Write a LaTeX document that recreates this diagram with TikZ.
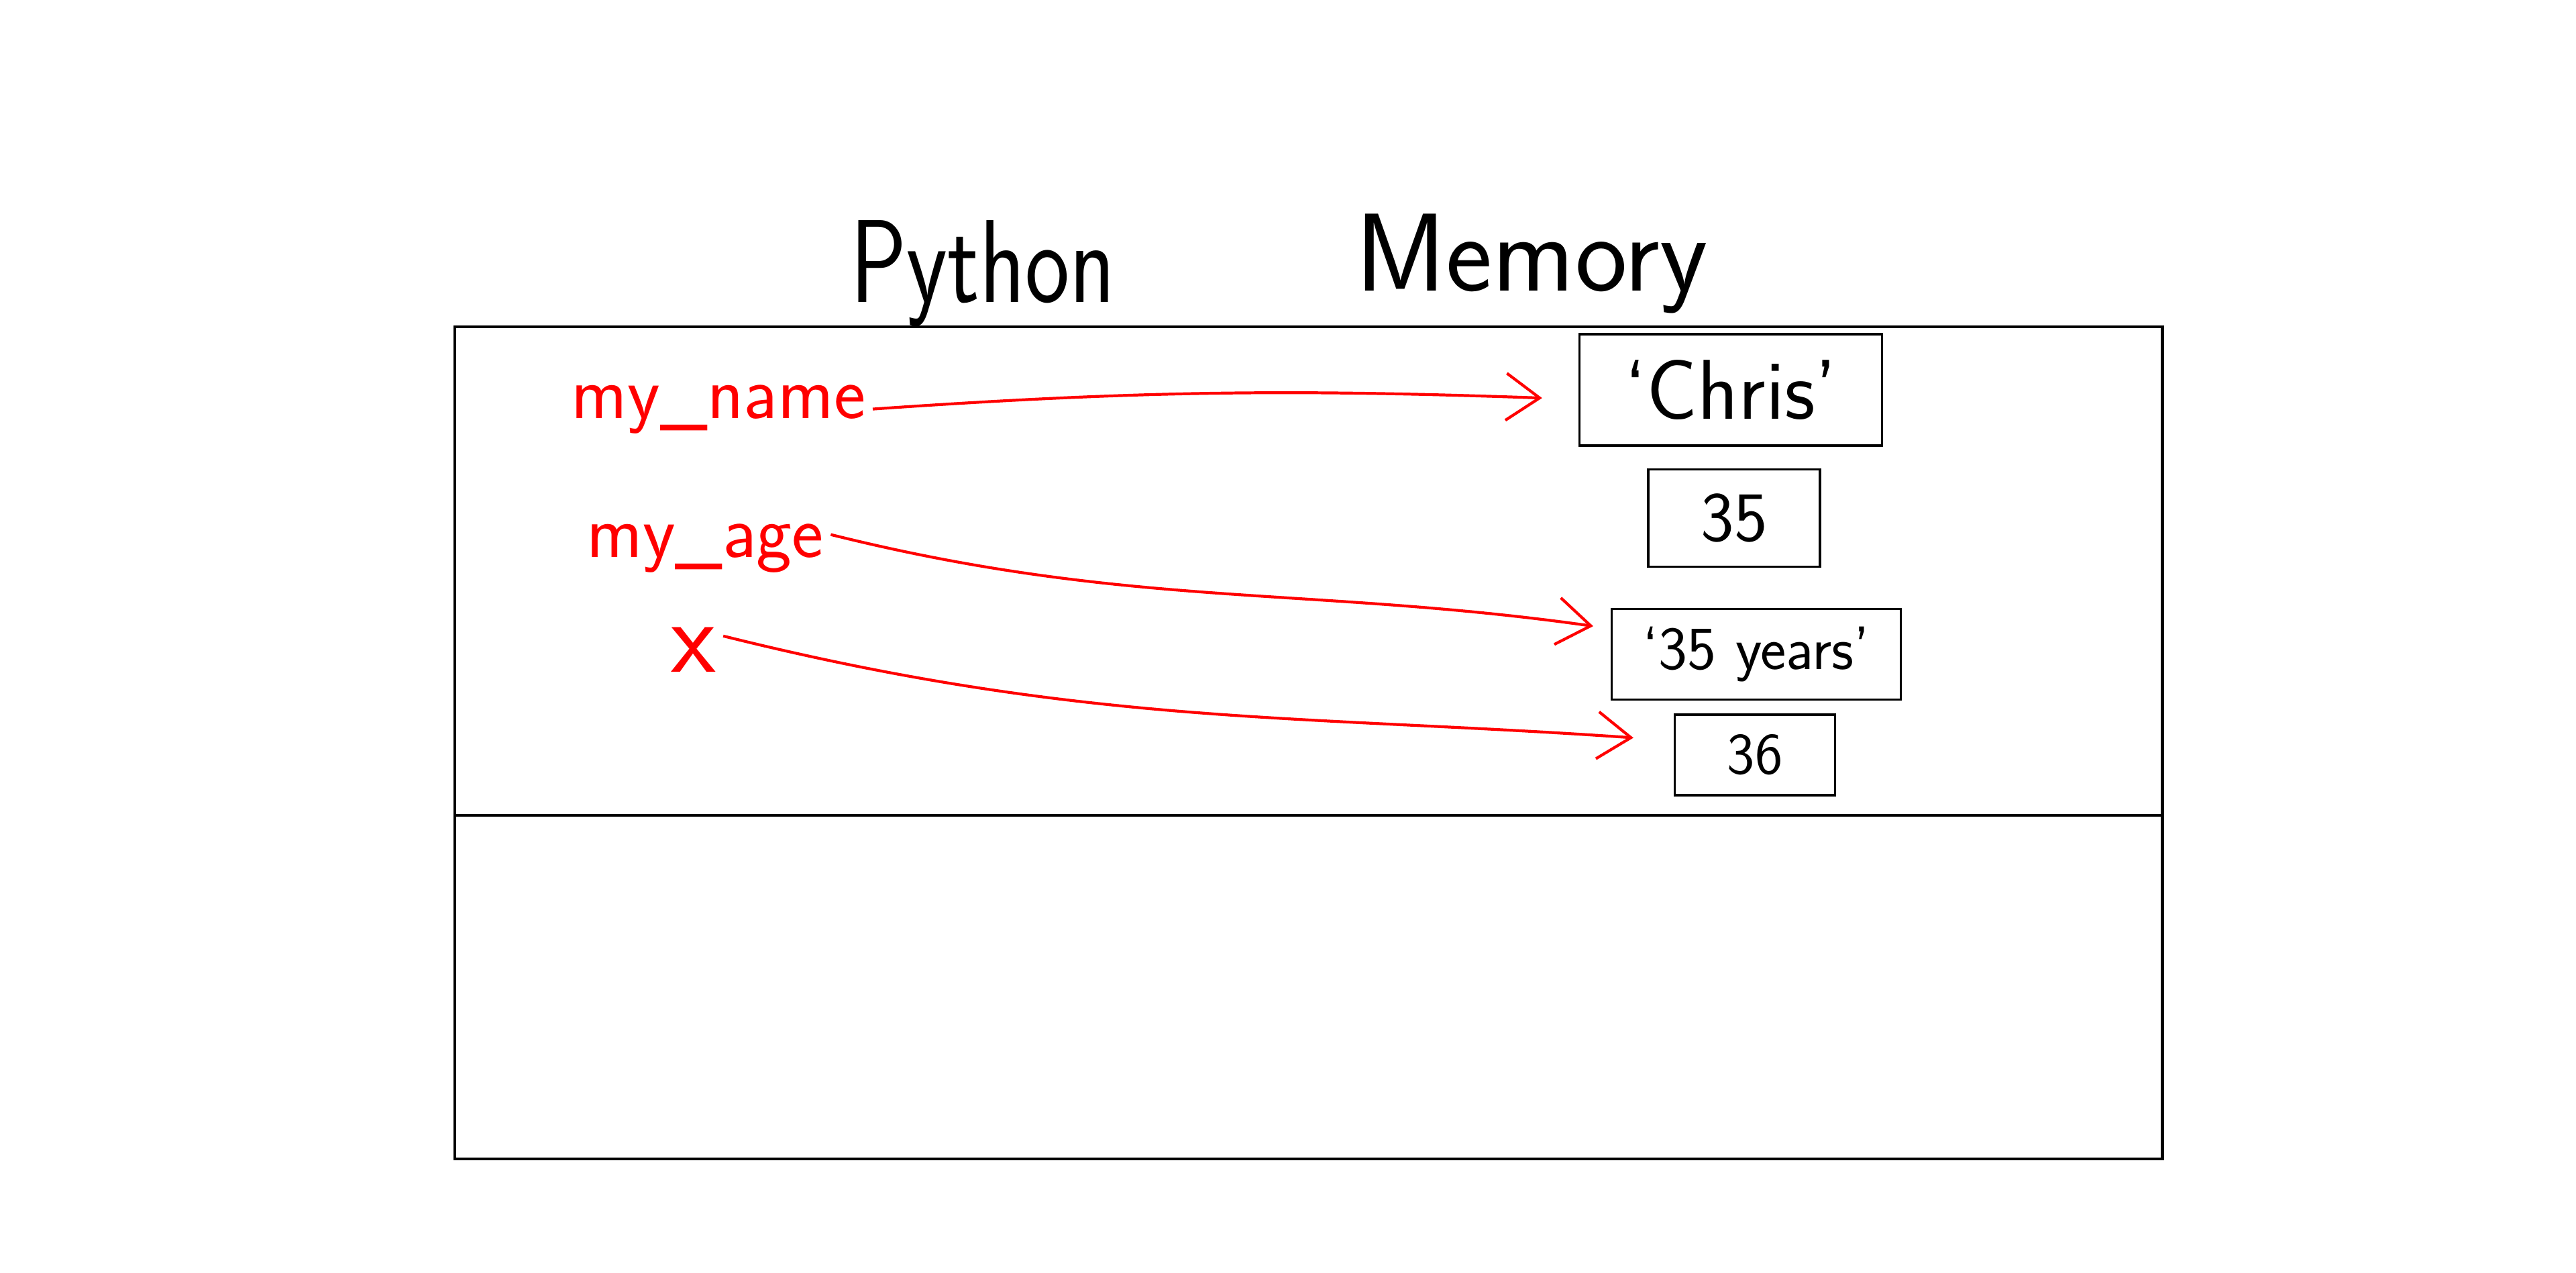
\documentclass[tikz,border=0pt]{standalone}
\usetikzlibrary{arrows.meta}
\tikzset{
  varname/.style={red, font=\sffamily\fontsize{32}{38}\selectfont, anchor=base, inner sep=1mm},
  valbox/.style={draw, line width=1pt, inner sep=0pt},
  ptr/.style={red, line width=1.2pt, -{Straight Barb[length=5mm,width=7mm]}}
}
\begin{document}
\begin{tikzpicture}
  \useasboundingbox (0,0) rectangle (38.4,-18.96);
  % headings
  \node[font=\sffamily\fontsize{50}{60}\selectfont, anchor=base] (python) at (14.65,-4.50) {\scalebox{0.8}[1]{Python}};
  \node[font=\sffamily\fontsize{47}{56}\selectfont, anchor=base] (memory) at (22.83,-4.33) {Memory};
  % frame
  \draw[line width=1.4pt] (6.78,-4.87) rectangle (32.23,-17.27);
  \draw[line width=1.2pt] (6.78,-12.15) -- (32.23,-12.15);
  % values in memory
  \node[valbox, minimum width=4.51cm, minimum height=1.66cm, font=\sffamily\fontsize{36}{43}\selectfont] (chris) at (25.80,-5.81) {`Chris'};
  \node[valbox, minimum width=2.56cm, minimum height=1.45cm, font=\sffamily\fontsize{30}{36}\selectfont] (thirtyfive) at (25.85,-7.72) {35};
  \node[valbox, minimum width=4.31cm, minimum height=1.35cm, font=\sffamily\fontsize{26}{31}\selectfont] (years) at (26.18,-9.75) {`35 years'};
  \node[valbox, minimum width=2.39cm, minimum height=1.20cm, font=\sffamily\fontsize{25}{30}\selectfont] (thirtysix) at (26.16,-11.25) {36};
  % names
  \node[varname] (myname) at (10.71,-6.23) {my\_name};
  \node[varname] (myage) at (10.51,-8.30) {my\_age};
  \node[varname, font=\sffamily\fontsize{44}{52}\selectfont] (varx) at (10.34,-10.01) {x};
  % references
  \draw[ptr, shorten >=5.4mm] (myname.east) to[out=4, in=178] ([yshift=-1.4mm]chris.west);
  \draw[ptr, shorten >=2.6mm] ([yshift=2mm]myage.east) to[out=-14, in=172] (years.170);
  \draw[ptr, shorten >=6mm] ([yshift=2mm]varx.east) to[out=-14, in=176] (thirtysix.170);
\end{tikzpicture}
\end{document}
